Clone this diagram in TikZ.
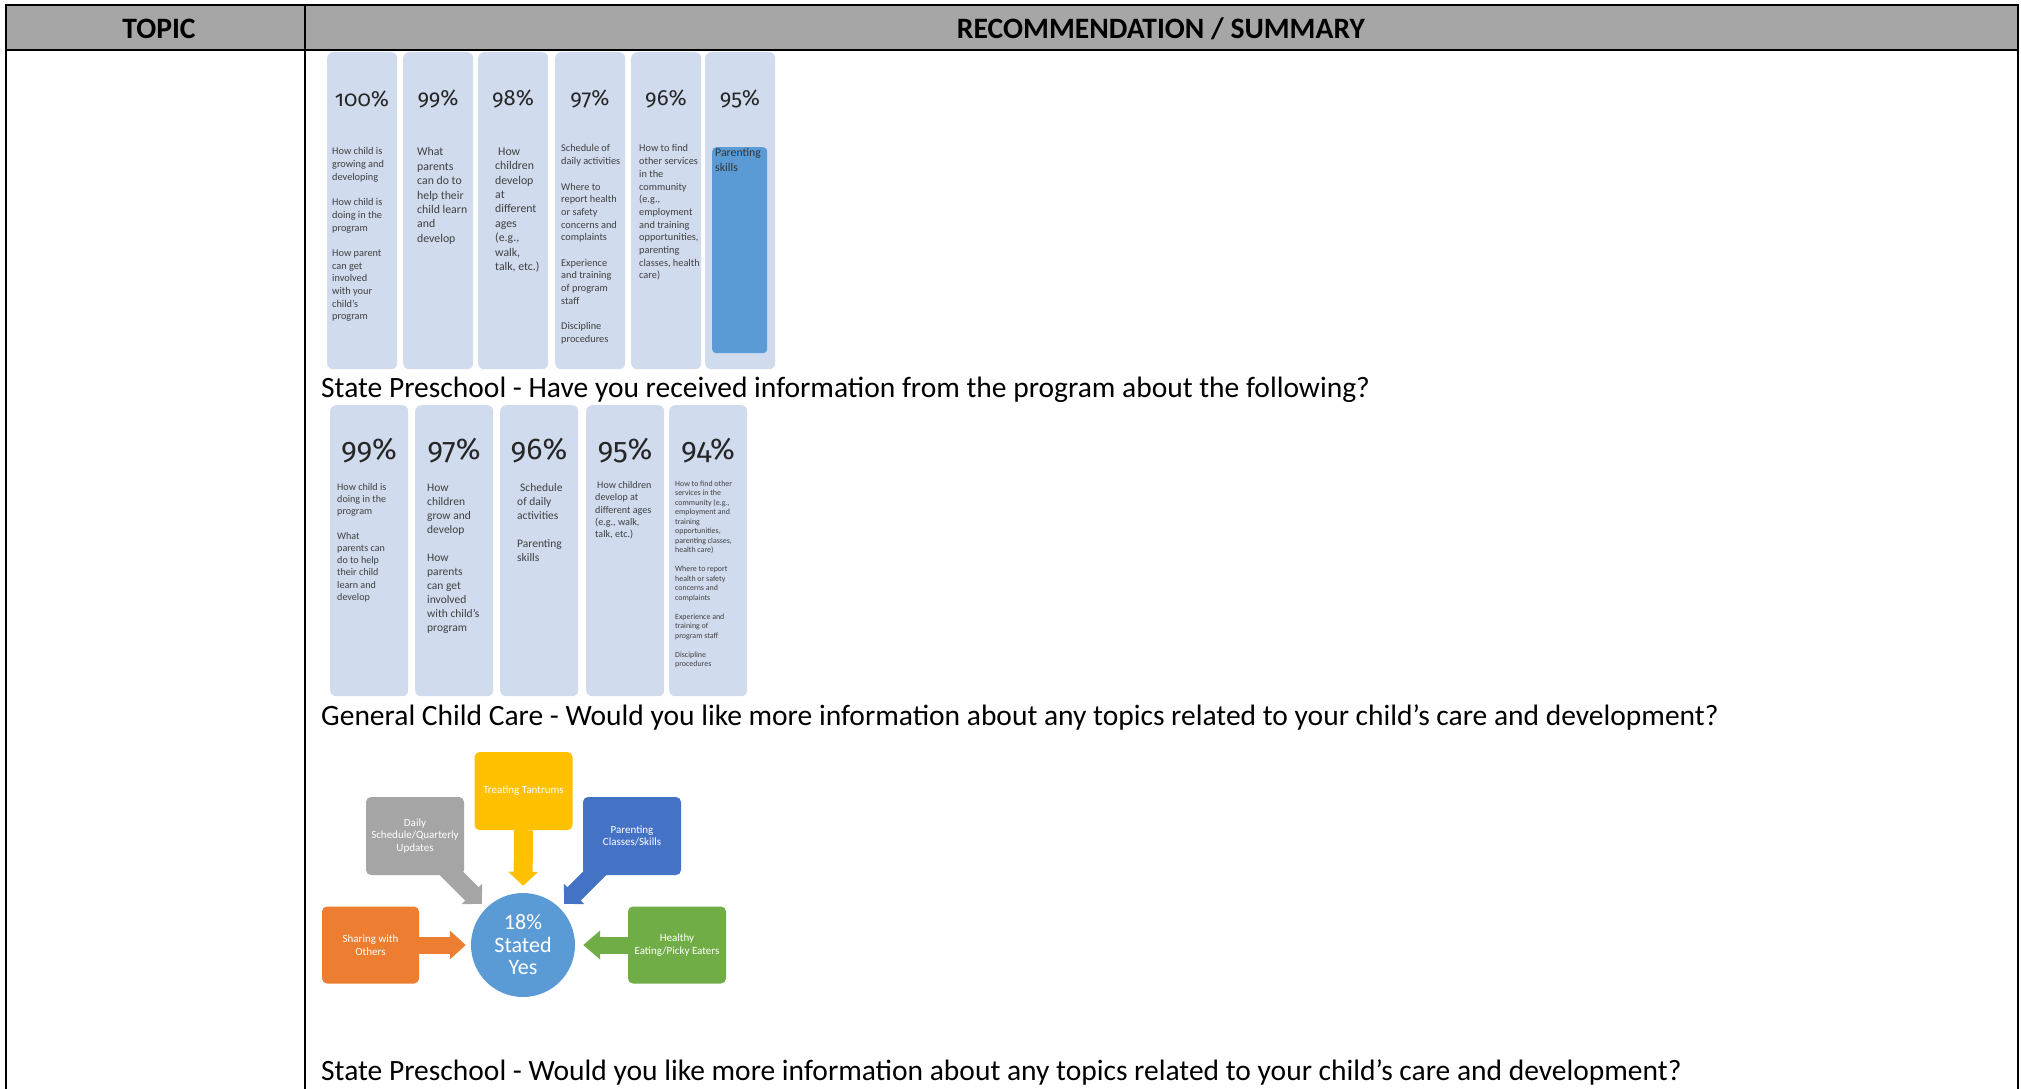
\documentclass[tikz,border=0pt]{standalone}
\usepackage{fontspec}
\setmainfont{Carlito}
\newfontfamily\oldnum[Numbers=OldStyle]{Fira Sans}
\usetikzlibrary{arrows.meta,calc}
\pgfdeclarelayer{bg}
\pgfsetlayers{bg,main}
\definecolor{colfill}{RGB}{208,219,238}
\definecolor{accblue}{RGB}{91,155,213}
\definecolor{offyellow}{RGB}{255,192,0}
\definecolor{offgray}{RGB}{165,165,165}
\definecolor{offblue}{RGB}{68,114,196}
\definecolor{offorange}{RGB}{237,125,49}
\definecolor{offgreen}{RGB}{112,173,71}
\definecolor{hdrgray}{RGB}{166,166,166}
\definecolor{txtgray}{RGB}{64,64,64}
\begin{document}
\begin{tikzpicture}[x=1pt,y=-1pt,
  tline/.style={line width=2pt, black},
  hdr/.style={inner sep=0pt, font=\bfseries\fontsize{29.6}{29.6}\selectfont},
  colbox/.style={fill=colfill, rounded corners=6pt, inner sep=0pt, anchor=north west},
  cola/.style={colbox, minimum width=70pt, minimum height=317pt},
  colb/.style={colbox, minimum width=78pt, minimum height=291pt},
  pcta/.style={font=\oldnum\fontsize{22}{22}\selectfont, text=black!85, inner sep=0pt},
  pctb/.style={font=\oldnum\fontsize{30}{30}\selectfont, text=black!85, inner sep=0pt},
  coltxt/.style={anchor=north west, inner sep=0pt, align=left, text=txtgray},
  fsmall/.style={coltxt, font=\fontsize{10.3}{12.7}\selectfont},
  fmid/.style={coltxt, font=\fontsize{11.8}{14.4}\selectfont},
  fbsmall/.style={coltxt, font=\fontsize{10.1}{12.2}\selectfont},
  fbmid/.style={coltxt, font=\fontsize{11.5}{14}\selectfont},
  fbtiny/.style={coltxt, font=\fontsize{7.9}{9.5}\selectfont},
  capt/.style={anchor=west, inner sep=0pt, font=\fontsize{29.5}{31}\selectfont},
  topicbox/.style={rounded corners=5pt, inner sep=0pt, minimum width=98pt, minimum height=78pt, text=white, align=center, font=\fontsize{11}{12.7}\selectfont},
  yarr/.style={draw=offyellow, line width=19pt, -{Triangle[width=29pt,length=14pt]}},
  garr/.style={draw=offgray, line width=19pt, -{Triangle[width=28pt,length=14pt]}},
  barr/.style={draw=offblue, line width=19pt, -{Triangle[width=28pt,length=14pt]}},
  oarr/.style={draw=offorange, line width=17pt, -{Triangle[width=28pt,length=16pt]}},
  grarr/.style={draw=offgreen, line width=17pt, -{Triangle[width=28pt,length=17pt]}}
]
\useasboundingbox (0,0) rectangle (2021,1088);
\begin{pgfonlayer}{bg}
\fill[white] (0,0) rectangle (2021,1088);
\end{pgfonlayer}

% table
\fill[hdrgray] (6,5) rectangle (2018,50);
\draw[tline] (6,1092) -- (6,5) -- (2018,5) -- (2018,1092);
\draw[tline] (6,50) -- (2018,50);
\draw[tline] (305,5) -- (305,1092);
\node[hdr] (topic) at (159,29) {TOPIC};
\node[hdr] (rec) at (1161,29) {RECOMMENDATION / SUMMARY};

% chart 1
\node[cola] (a1) at (327,52) {};
\node[cola] (a2) at (403,52) {};
\node[cola] (a3) at (478,52) {};
\node[cola] (a4) at (555,52) {};
\node[cola] (a5) at (631,52) {};
\node[cola] (a6) at (705,52) {};
\node[fill=accblue, rounded corners=4pt, anchor=north west, minimum width=55pt, minimum height=206pt, inner sep=0pt] (a6in) at (712,147) {};
\node[pcta] (pa1) at (362,99) {100\%};
\node[pcta] (pa2) at (438,99) {99\%};
\node[pcta] (pa3) at (513,99) {98\%};
\node[pcta] (pa4) at (590,99) {97\%};
\node[pcta] (pa5) at (666,99) {96\%};
\node[pcta] (pa6) at (740,99) {95\%};
\node[fsmall] (ta1) at (332,147.5) {How child is\\growing and\\developing\\[12.7pt]How child is\\doing in the\\program\\[12.7pt]How parent\\can get\\involved\\with your\\child’s\\program};
\node[fmid] (ta2) at (417,147.5) {What\\parents\\can do to\\help their\\child learn\\and\\develop};
\node[fmid] (ta3) at (495,147.5) {\hspace*{3pt}How\\children\\develop\\at\\different\\ages\\(e.g.,\\walk,\\talk, etc.)};
\node[fsmall] (ta4) at (561,144.6) {Schedule of\\daily activities\\[12.7pt]Where to\\report health\\or safety\\concerns and\\complaints\\[12.7pt]Experience\\and training\\of program\\staff\\[12.7pt]Discipline\\procedures};
\node[fsmall] (ta5) at (639,144.6) {How to find\\other services\\in the\\community\\(e.g.,\\employment\\and training\\opportunities,\\parenting\\classes, health\\care)};
\node[fmid, text=black!80] (ta6) at (715,148.6) {Parenting\\skills};

\node[capt] (cap1) at (321,389.5) {State Preschool - Have you received information from the program about the following?};

% chart 2
\node[colb] (b1) at (330,405) {};
\node[colb] (b2) at (415,405) {};
\node[colb] (b3) at (500,405) {};
\node[colb] (b4) at (586,405) {};
\node[colb] (b5) at (669,405) {};
\node[pctb] (pb1) at (369,451) {99\%};
\node[pctb] (pb2) at (454,451) {97\%};
\node[pctb] (pb3) at (539,451) {96\%};
\node[pctb] (pb4) at (625,451) {95\%};
\node[pctb] (pb5) at (708,451) {94\%};
\node[fbsmall] (tb1) at (337,483.2) {How child is\\doing in the\\program\\[12.2pt]What\\parents can\\do to help\\their child\\learn and\\develop};
\node[fbmid] (tb2) at (427,483.8) {How\\children\\grow and\\develop\\[14pt]How\\parents\\can get\\involved\\with child’s\\program};
\node[fbmid] (tb3) at (517,483.8) {\hspace*{3pt}Schedule\\of daily\\activities\\[14pt]Parenting\\skills};
\node[fbsmall] (tb4) at (595,481.5) {\hspace*{2pt}How children\\develop at\\different ages\\(e.g., walk,\\talk, etc.)};
\node[fbtiny] (tb5) at (675,480.5) {How to find other\\services in the\\community (e.g.,\\employment and\\training\\opportunities,\\parenting classes,\\health care)\\[9.5pt]Where to report\\health or safety\\concerns and\\complaints\\[9.5pt]Experience and\\training of\\program staff\\[9.5pt]Discipline\\procedures};

\node[capt] (cap2) at (321,717.5) {General Child Care - Would you like more information about any topics related to your child’s care and development?};

% chart 3
\node[topicbox, fill=offyellow] (ytt) at (523.5,791) {Treating Tantrums};
\node[topicbox, fill=offgray] (dsq) at (415,836) {Daily\\Schedule/Quarterly\\Updates};
\node[topicbox, fill=offblue] (pcs) at (632,836) {Parenting\\Classes/Skills};
\node[topicbox, fill=offorange, minimum width=97pt, minimum height=77pt] (sho) at (370.5,945) {Sharing with\\Others};
\node[topicbox, fill=offgreen, minimum height=77pt] (hea) at (677,945) {Healthy\\Eating/Picky Eaters};
\node[circle, fill=accblue, minimum size=104pt, inner sep=0pt, text=white, align=center, font=\fontsize{22}{22.5}\selectfont] (circ) at (523,945) {18\%\\Stated\\Yes};
\coordinate (dsqout) at ($(dsq.south east)+(-21,-10)$);
\coordinate (pcsout) at ($(pcs.south west)+(20,-10)$);
\begin{pgfonlayer}{bg}
\draw[yarr, shorten >=7pt] (ytt.south) -- (circ.north);
\draw[oarr, shorten >=5pt] (sho.east) -- (circ.west);
\draw[grarr, shorten >=8pt] (hea.west) -- (circ.east);
\draw[garr, shorten >=6pt] (dsqout) -- (circ.135);
\draw[barr, shorten >=6pt] (pcsout) -- (circ.45);
\end{pgfonlayer}

\node[capt] (cap3) at (321,1072.5) {State Preschool - Would you like more information about any topics related to your child’s care and development?};
\end{tikzpicture}
\end{document}
